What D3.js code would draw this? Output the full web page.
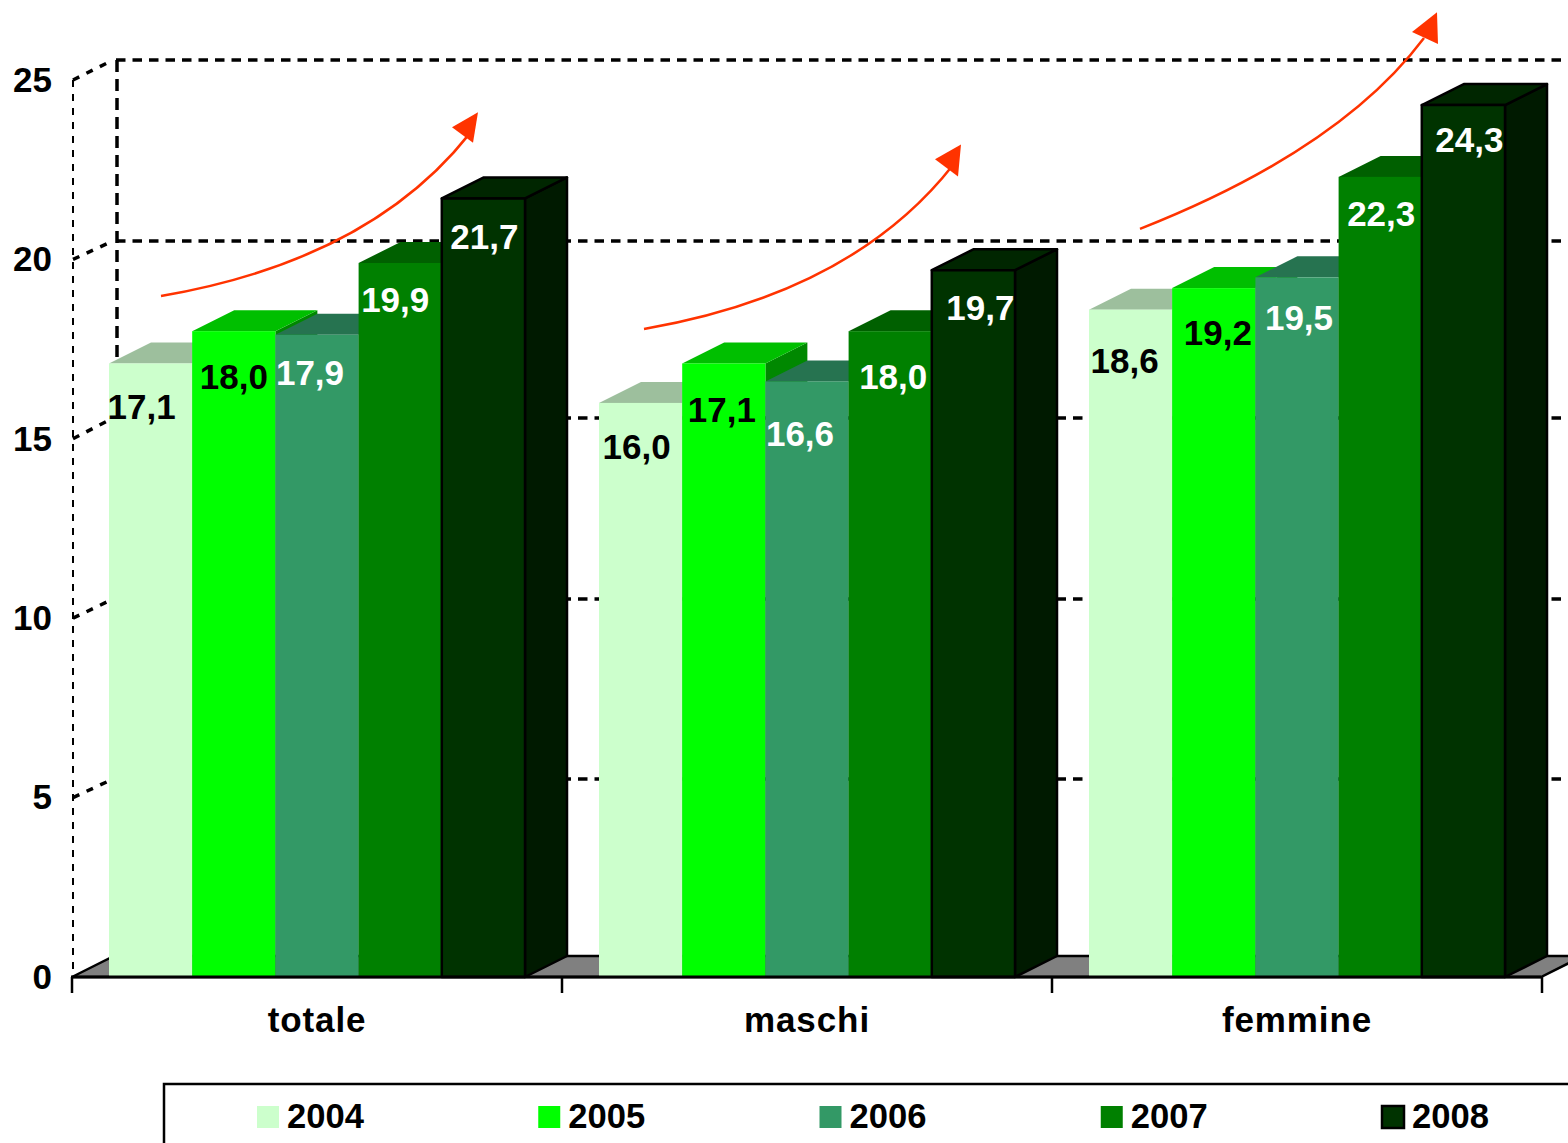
<!DOCTYPE html>
<html><head><meta charset="utf-8">
<script src="https://cdn.jsdelivr.net/npm/d3@7/dist/d3.min.js"></script>
<style>
html,body{margin:0;padding:0;background:#fff;overflow:hidden}
svg{display:block}
text{font-family:"Liberation Sans",Arial,sans-serif;font-weight:bold;fill:#000}
</style></head><body>
<svg id="c" width="1568" height="1143"></svg>
<script>
// ---- data ----
const categories = ["totale","maschi","femmine"];
const years = ["2004","2005","2006","2007","2008"];
const v2004 = [17.1,16.0,18.6];
const v2005 = [18.0,17.1,19.2];
const v2006 = [17.9,16.6,19.5];
const v2007 = [19.9,18.0,22.3];
const v2008 = [21.7,19.7,24.3];
const yTicks = [0,5,10,15,20,25];
const frontColors = ["#CCFFCC","#00FF00","#339966","#008000","#003300"];
const topColors   = ["#9DBF9D","#00BF00","#267350","#006000","#002600"];
const sideColors  = ["#88AA88","#008800","#226644","#005500","#001A00"];
const labelColors = ["#000","#000","#fff","#fff","#fff"];
// ---- layout ----
const seriesVals = [v2004,v2005,v2006,v2007,v2008];
const DX = 42, DY = 21;
const svg = d3.select("#c");
const y = d3.scaleLinear().domain([0,25]).range([977,80]);
const wallY = d3.scaleLinear().domain(yTicks).range([956,779,599,418,241,60]);
const x0 = d3.scaleBand().domain(categories).range([72,1542]);
const x1 = d3.scaleBand().domain(years).range([37,453]);
const wallLeft = 116, right = 1600;

// walls
svg.append("g").selectAll("line").data(yTicks.slice(1)).join("line")
  .attr("x1",wallLeft).attr("x2",right).attr("y1",d=>wallY(d)).attr("y2",d=>wallY(d))
  .attr("stroke","#000").attr("stroke-width",3.5).attr("stroke-dasharray","9.5 7");
svg.append("line").attr("x1",wallLeft+1).attr("x2",wallLeft+1).attr("y1",wallY(25)).attr("y2",wallY(0))
  .attr("stroke","#000").attr("stroke-width",3.5).attr("stroke-dasharray","12 7");
svg.append("line").attr("x1",73).attr("x2",73).attr("y1",y(25)).attr("y2",y(0))
  .attr("stroke","#000").attr("stroke-width",2).attr("stroke-dasharray","7 7");
svg.append("g").selectAll("line").data(yTicks.slice(1)).join("line")
  .attr("x1",73).attr("x2",wallLeft-3).attr("y1",d=>y(d)).attr("y2",d=>wallY(d))
  .attr("stroke","#000").attr("stroke-width",3.5).attr("stroke-dasharray","7 8");

// floor
svg.append("path")
  .attr("d",`M72,${y(0)}L${wallLeft-2},${wallY(0)}H${1541+DX}L1541,${y(0)}Z`)
  .attr("fill","#808080").attr("stroke","#000").attr("stroke-width",2.5);

// bars (painter's order, left to right)
categories.forEach((c,ci)=>{
  years.forEach((yr,si)=>{
    const v = seriesVals[si][ci];
    const xa = x0(c)+x1(yr), xb = xa+x1.bandwidth(), yt = y(v), yb = y(0);
    const edge = si===4;
    const g = svg.append("g");
    const st = s=>s.attr("stroke",edge?"#000":"none").attr("stroke-width",2.5).attr("stroke-linejoin","round");
    st(g.append("path").attr("d",`M${xb},${yb}L${xb+DX},${yb-DY}V${yt-DY}L${xb},${yt}Z`).attr("fill",sideColors[si]));
    st(g.append("path").attr("d",`M${xa},${yt}L${xa+DX},${yt-DY}H${xb+DX}L${xb},${yt}Z`).attr("fill",topColors[si]));
    st(g.append("rect").attr("x",xa).attr("y",yt).attr("width",xb-xa).attr("height",yb-yt).attr("fill",frontColors[si]));
  });
});

// baseline and category ticks
svg.append("line").attr("x1",71).attr("x2",1541).attr("y1",y(0)).attr("y2",y(0)).attr("stroke","#000").attr("stroke-width",3);
svg.append("g").selectAll("line").data(categories.map(c=>x0(c)).concat([x0.range()[1]])).join("line")
  .attr("x1",d=>d).attr("x2",d=>d).attr("y1",y(0)).attr("y2",y(0)+16).attr("stroke","#000").attr("stroke-width",2.5);

// axes
const ya = svg.append("g").attr("transform","translate(72,0)")
  .call(d3.axisLeft(y).tickValues(yTicks).tickSize(0).tickPadding(20));
ya.select(".domain").remove();
ya.selectAll("text").style("font-size","35px").style("font-family",'"Liberation Sans"').style("font-weight","bold");
const xa = svg.append("g").attr("transform",`translate(0,${y(0)})`)
  .call(d3.axisBottom(x0).tickSize(0).tickPadding(30));
xa.select(".domain").remove();
xa.selectAll("text").style("font-size","35px").style("letter-spacing","0.9px").style("font-family",'"Liberation Sans"').style("font-weight","bold");

// value labels, hand-placed in the source chart: nudges from each bar's centre and top
const nudgeX = [[-9,0,-7,-5,1],[-4,-2,-7,3,7],[-6,4,2,1,6]];
const nudgeY = [[43,46,38,37,38],[44,46,52,46,38],[51,45,40,37,35]];
categories.forEach((c,ci)=>years.forEach((yr,si)=>{
  const v = seriesVals[si][ci];
  svg.append("text")
    .attr("x",x0(c)+x1(yr)+x1.bandwidth()/2+nudgeX[ci][si])
    .attr("y",y(v)+nudgeY[ci][si]).attr("dy","0.35em")
    .attr("text-anchor","middle").style("font-size","35px").style("fill",labelColors[si])
    .text(d3.format(".1f")(v).replace(".",","));
}));

// trend arrows
const arrows = [
 {c:"totale", from:[89,18.98], ctrl:[298,19.98], to:[398,23.52], tip:[406,24.1], a:[380,23.68], b:[401,23.25]},
 {c:"maschi", from:[82,18.06], ctrl:[291,19.07], to:[391,22.63], tip:[399,23.2], a:[373,22.79], b:[396,22.31]},
 {c:"femmine",from:[88,20.85], ctrl:[288,23.05], to:[372,26.17], tip:[385,26.89],a:[360,26.34], b:[386,26.0]}
];
arrows.forEach(a=>{
  const X=p=>x0(a.c)+p[0], Y=p=>y(p[1]);
  const p=d3.path();
  p.moveTo(X(a.from),Y(a.from));
  p.quadraticCurveTo(X(a.ctrl),Y(a.ctrl),X(a.to),Y(a.to));
  svg.append("path").attr("d",p.toString()).attr("fill","none").attr("stroke","#FF3300").attr("stroke-width",2.5);
  svg.append("path").attr("d",`M${X(a.tip)},${Y(a.tip)}L${X(a.a)},${Y(a.a)}L${X(a.b)},${Y(a.b)}Z`).attr("fill","#FF3300");
});

// legend
svg.append("rect").attr("x",164).attr("y",1084).attr("width",1500).attr("height",100)
  .attr("fill","#fff").attr("stroke","#000").attr("stroke-width",2.5);
const lx = d3.scalePoint().domain(years).range([257,1382]);
const lg = svg.append("g").selectAll("g").data(years).join("g").attr("transform",d=>`translate(${lx(d)},1106)`);
lg.append("rect").attr("width",22).attr("height",22).attr("fill",(d,i)=>frontColors[i])
  .attr("stroke",(d,i)=>i===4?"#000":"none").attr("stroke-width",2.5);
lg.append("text").attr("x",30).attr("y",22).style("font-size","34.6px").text(d=>d);
</script></body></html>
